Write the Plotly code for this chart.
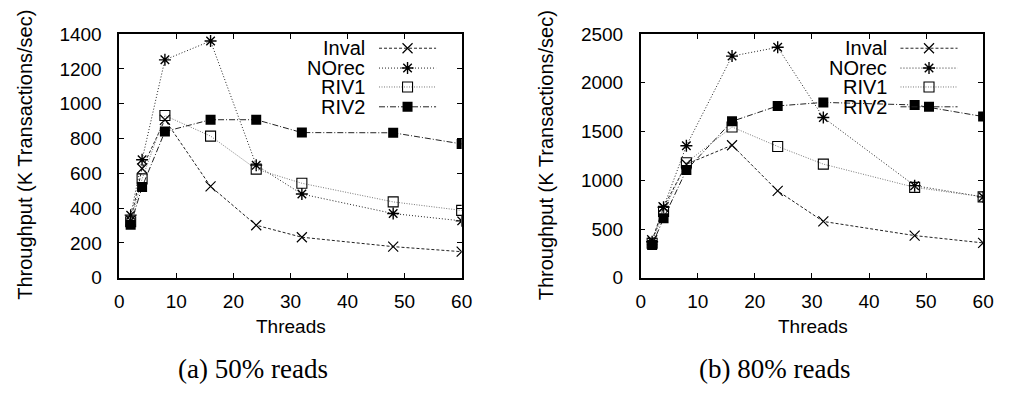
import plotly.graph_objects as go

threads = [2, 4, 8, 16, 24, 32, 48, 60]

# (a) 50% reads
inval_50 = [330, 628, 908, 525, 302, 233, 179, 150]
norec_50 = [360, 678, 1252, 1360, 647, 481, 369, 327]
riv1_50 = [322, 568, 932, 814, 624, 543, 436, 387]
riv2_50 = [305, 522, 840, 908, 908, 834, 833, 769]

# (b) 80% reads
inval_80 = [385, 724, 1165, 1360, 891, 578, 433, 358]
norec_80 = [370, 724, 1354, 2274, 2364, 1644, 945, 830]
riv1_80 = [355, 681, 1180, 1547, 1347, 1166, 928, 830]
riv2_80 = [336, 610, 1105, 1605, 1763, 1799, 1773, 1654]

series_names = ["Inval", "NOrec", "RIV1", "RIV2"]
captions = ["(a) 50% reads", "(b) 80% reads"]
y_ranges = [[0, 1400], [0, 2500]]
y_dticks = [200, 500]

styles = {
    "Inval": dict(line=dict(color="#222", width=1, dash="3px,2px"),
                  marker=dict(symbol="x-thin-open", size=10, color="black",
                              line=dict(color="black", width=1.2))),
    "NOrec": dict(line=dict(color="#222", width=1, dash="1px,2px"),
                  marker=dict(symbol="asterisk-open", size=10, color="black",
                              line=dict(color="black", width=1.4))),
    "RIV1": dict(line=dict(color="#777", width=1, dash="1px,1.5px"),
                 marker=dict(symbol="square-open", size=10, color="black",
                             line=dict(color="black", width=1.1))),
    "RIV2": dict(line=dict(color="#222", width=1, dash="6px,2px,1px,2px"),
                 marker=dict(symbol="square", size=10, color="black",
                             line=dict(color="black", width=0))),
}

# page has an 8px body margin; the figure is sized so the page is 1010x396
OFF = 8
W, H = 1010 - 2 * OFF, 396 - 2 * OFF


def px(x):
    return (x - OFF) / W


def py(y):
    return 1 - (y - OFF) / H


panels = [
    dict(x0=116, x1=464, data=[inval_50, norec_50, riv1_50, riv2_50]),
    dict(x0=646, x1=994, data=[inval_80, norec_80, riv1_80, riv2_80]),
]
ytop, ybot = 25, 283
ydom = [py(ybot), py(ytop)]

fig = go.Figure()
FONT = "Liberation Sans, Arial, sans-serif"
SERIF = "Liberation Serif, DejaVu Serif, serif"

layout = dict(
    width=W, height=H, margin=dict(l=0, r=0, t=0, b=0),
    paper_bgcolor="white", plot_bgcolor="white", showlegend=False,
    font=dict(family=FONT, size=19, color="black"),
)
annotations = []

for i, p in enumerate(panels):
    xa = "x" if i == 0 else "x2"
    ya = "y" if i == 0 else "y2"
    for name, vals in zip(series_names, p["data"]):
        fig.add_trace(go.Scatter(x=threads, y=vals, mode="lines+markers", name=name,
                                 xaxis=xa, yaxis=ya, **styles[name]))
    xdom = [px(p["x0"]), px(p["x1"])]
    axkey = "xaxis" if i == 0 else "xaxis2"
    aykey = "yaxis" if i == 0 else "yaxis2"
    layout[axkey] = dict(domain=xdom, range=[0, 60], dtick=10, tick0=0,
                         ticks="inside", ticklen=5, tickwidth=1, tickcolor="black",
                         showline=True, linecolor="black", linewidth=1.5, mirror="ticks",
                         showgrid=False, zeroline=False, anchor=ya,
                         tickfont=dict(size=19), ticklabelstandoff=6)
    layout[aykey] = dict(domain=ydom, range=y_ranges[i], dtick=y_dticks[i], tick0=0,
                         ticks="inside", ticklen=5, tickwidth=1, tickcolor="black",
                         showline=True, linecolor="black", linewidth=1.5, mirror="ticks",
                         showgrid=False, zeroline=False, anchor=xa,
                         tickfont=dict(size=19), ticklabelstandoff=12)

    # legend key helper axes (pixel-like coordinates inside the plot frame)
    lx = "x%d" % (i + 3)
    ly = "y%d" % (i + 3)
    layout["xaxis%d" % (i + 3)] = dict(domain=xdom, range=[p["x0"], p["x1"]], visible=False,
                                        anchor=ly, overlaying=xa, fixedrange=True)
    layout["yaxis%d" % (i + 3)] = dict(domain=ydom, range=[ybot, ytop], visible=False,
                                        anchor=lx, overlaying=ya, fixedrange=True)
    key_x0 = p["x1"] - 84
    key_x1 = p["x1"] - 26
    key_xm = p["x1"] - 55
    rows = [40, 61, 81, 102]
    for name, ry in zip(series_names, rows):
        fig.add_trace(go.Scatter(x=[key_x0, key_x1], y=[ry, ry], mode="lines",
                                 line=styles[name]["line"], xaxis=lx, yaxis=ly,
                                 hoverinfo="skip"))
        fig.add_trace(go.Scatter(x=[key_xm], y=[ry], mode="markers",
                                 marker=styles[name]["marker"], xaxis=lx, yaxis=ly,
                                 hoverinfo="skip"))
        annotations.append(dict(x=key_x0 - 12, y=ry, xref=lx, yref=ly, text=name,
                                showarrow=False, xanchor="right", yanchor="middle",
                                font=dict(family=FONT, size=20, color="black")))

    cx = (p["x0"] + p["x1"]) / 2
    annotations.append(dict(x=px(cx + 1), y=py(335), xref="paper", yref="paper",
                            text="Threads", showarrow=False, xanchor="center",
                            yanchor="middle", font=dict(family=FONT, size=19)))
    annotations.append(dict(x=px(p["x0"] - 96), y=py(153), xref="paper", yref="paper",
                            text="Throughput (K Transactions/sec)", showarrow=False,
                            textangle=-90, xanchor="center", yanchor="middle",
                            font=dict(family=FONT, size=20)))
    capx = 252 if i == 0 else 782
    annotations.append(dict(x=px(capx), y=py(380), xref="paper", yref="paper",
                            text=captions[i], showarrow=False, xanchor="center",
                            yanchor="middle", font=dict(family=SERIF, size=27)))

layout["annotations"] = annotations
fig.update_layout(**layout)
fig.write_html("out.html", config={"displayModeBar": False})
